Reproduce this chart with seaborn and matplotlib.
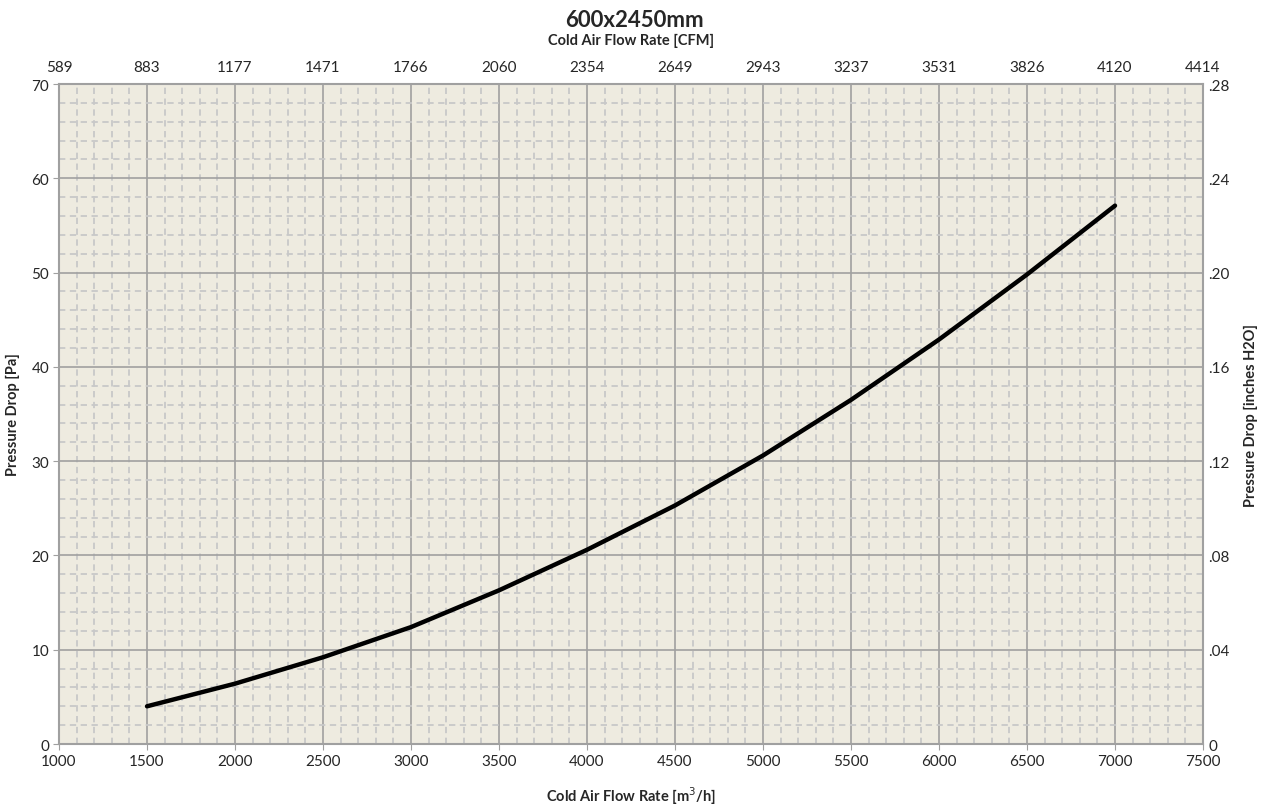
import matplotlib
matplotlib.use('Agg')
import matplotlib.pyplot as plt
import seaborn as sns
import pandas as pd
import numpy as np

#=====DATA=====
flow_m3h = [1500, 2000, 2500, 3000, 3500, 4000, 4500, 5000, 5500, 6000, 6500, 7000]
pressure_pa = [4.0, 6.4, 9.2, 12.4, 16.3, 20.6, 25.3, 30.6, 36.5, 42.9, 49.8, 57.1]
x_ticks = [1000, 1500, 2000, 2500, 3000, 3500, 4000, 4500, 5000, 5500, 6000, 6500, 7000, 7500]
cfm_labels = ['589', '883', '1177', '1471', '1766', '2060', '2354', '2649', '2943',
              '3237', '3531', '3826', '4120', '4414']
y_ticks = [0, 10, 20, 30, 40, 50, 60, 70]
inch_labels = ['0', '.04', '.08', '.12', '.16', '.20', '.24', '.28']

df = pd.DataFrame({'flow': flow_m3h, 'dp': pressure_pa})

#=====STYLE=====
sns.set_style('white')
plt.rcParams['font.family'] = ['Lato', 'DejaVu Sans']
grid_major = '#A0A0A0'
grid_minor = '#C8C8C8'

fig = plt.figure(figsize=(12.69, 8.12), dpi=100)
ax = fig.add_axes([0.0465, 0.0825, 0.9015, 0.8128])
ax.set_facecolor('#EEEBE0')

#=====PLOT=====
sns.lineplot(data=df, x='flow', y='dp', ax=ax, color='black', linewidth=3.2,
             solid_capstyle='round', zorder=5)

ax.set_xlim(1000, 7500)
ax.set_ylim(0, 70)
ax.set_xticks(x_ticks)
ax.set_yticks(y_ticks)
ax.set_xticks(np.arange(1000, 7501, 100), minor=True)
ax.set_yticks(np.arange(0, 70.1, 2), minor=True)
ax.grid(which='major', color=grid_major, linewidth=1.2, linestyle='-')
ax.grid(which='minor', color=grid_minor, linewidth=1.3, linestyle=(0, (3.5, 2.5)))
ax.set_axisbelow(True)
ax.tick_params(axis='both', which='major', labelsize=11, length=4, color=grid_major,
               direction='out', pad=3)
ax.tick_params(axis='both', which='minor', length=0)
for s in ax.spines.values():
    s.set_color(grid_major)
    s.set_linewidth(1.5)

ax.set_xlabel('Cold Air Flow Rate [m$^3$/h]', fontsize=10.5, fontweight='bold', labelpad=12)
ax.set_ylabel('Pressure Drop [Pa]', fontsize=10.5, fontweight='bold', labelpad=8)

#top axis (CFM)
ax_top = ax.twiny()
ax_top.set_xlim(ax.get_xlim())
ax_top.set_xticks(x_ticks)
ax_top.set_xticklabels(cfm_labels)
ax_top.tick_params(axis='x', labelsize=11, length=0, pad=7)
ax_top.set_xlabel('Cold Air Flow Rate [CFM]', fontsize=10.5, fontweight='bold', labelpad=12)

#right axis (inches H2O)
ax_right = ax.twinx()
ax_right.set_ylim(ax.get_ylim())
ax_right.set_yticks(y_ticks)
ax_right.set_yticklabels(inch_labels)
ax_right.tick_params(axis='y', labelsize=11, length=0, pad=4)
ax_right.set_ylabel('Pressure Drop [inches H2O]', fontsize=10.5, fontweight='bold', labelpad=10)

for a in (ax_top, ax_right):
    for s in a.spines.values():
        s.set_visible(False)

fig.suptitle('600x2450mm', fontsize=16, fontweight='bold', y=0.988)

fig.savefig('out.png', dpi=100)
plt.close()
